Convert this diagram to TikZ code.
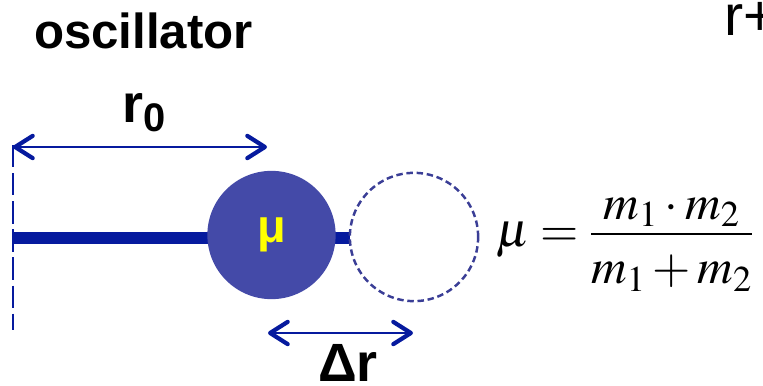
\documentclass[tikz,border=0pt]{standalone}
\usepackage{amsmath}
\usepackage{mathptmx}
\usepackage[no-math]{fontspec}
\setsansfont{Liberation Sans}
\usepackage{xcolor}
\usetikzlibrary{arrows.meta}
\definecolor{rodblue}{RGB}{6,26,158}
\definecolor{ballblue}{RGB}{68,74,168}
\definecolor{ghostblue}{RGB}{58,62,150}
\definecolor{muyellow}{RGB}{255,255,0}

\begin{document}
\begin{tikzpicture}[x=0.03cm,y=-0.03cm,line join=round,
  lbl/.style={font=\sffamily\bfseries\fontsize{46}{52}\selectfont,inner sep=0pt,anchor=base},
  barb/.tip={Straight Barb[length=15pt,width=19pt,line width=3.6pt,round]},
  dimarrow/.style={rodblue,line width=2.1pt,{barb}-{barb}}]
  \useasboundingbox (0,0) rectangle (763,385);
  \clip (0,0) rectangle (763,385);
  \coordinate (W) at (13,238);
  \coordinate (Wtop) at (13,145);
  \coordinate (Wbot) at (13,330);
  \coordinate (G) at (350,238);
  \coordinate (R0a) at (13,147);
  \coordinate (R0b) at (267,147);
  \coordinate (DRa) at (268,333);
  \coordinate (DRb) at (413,333);
  % wall and rod
  \draw[rodblue,line width=1.8pt,dash pattern=on 19pt off 5pt] (Wtop) -- (Wbot);
  \draw[rodblue,line width=9.4pt] (W) -- (G);
  % reduced mass, rest and displaced
  \node[circle,fill=ballblue,minimum size=109.5pt,inner sep=0pt,
        font=\sffamily\bfseries\fontsize{40}{46}\selectfont,text=muyellow] (ball) at (271.5,235) {μ};
  \node[circle,draw=ghostblue,line width=2.1pt,dash pattern=on 5.5pt off 3.2pt,
        minimum size=109.5pt,inner sep=0pt] (ghost) at (414,237) {};
  % dimensions
  \draw[dimarrow] (R0a) -- (R0b);
  \draw[dimarrow] (DRa) -- (DRb);
  \node[lbl] (r0) at (144,122) {r\textsubscript{0}};
  \node[lbl] (dr) at (348,381) {Δr};
  \node[font=\sffamily\bfseries\fontsize{42}{48}\selectfont,inner sep=0pt,anchor=base] (title) at (143.5,48) {oscillator};
  \node[font=\sffamily\fontsize{49}{56}\selectfont,inner sep=0pt,anchor=base west] (rplus) at (724,35) {r+};
  \node[inner sep=0pt,anchor=base west,font=\fontsize{42}{50}\selectfont] (mu) at (496,246)
    {$\mu = \dfrac{\raisebox{-6pt}{$\displaystyle m_1 \cdot m_2$}}{\raisebox{-3.5pt}{$\displaystyle m_1 + m_2$}}$};
\end{tikzpicture}
\end{document}
